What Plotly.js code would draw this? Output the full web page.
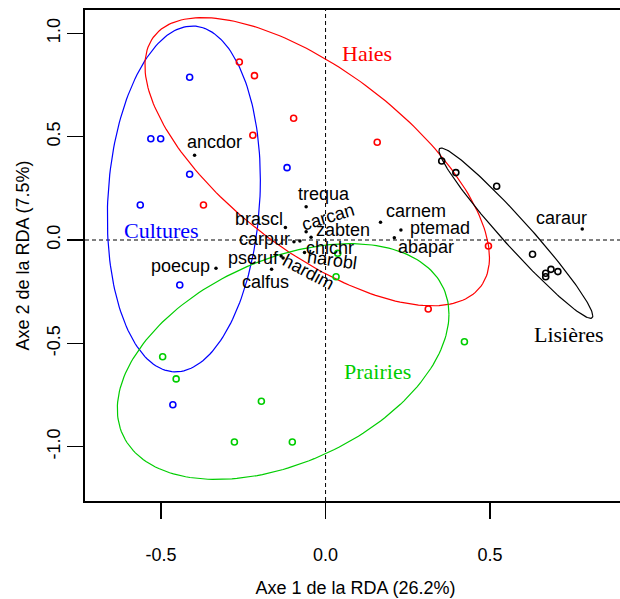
<!DOCTYPE html>
<html>
<head>
<meta charset="utf-8">
<script src="https://cdn.plot.ly/plotly-3.0.1.min.js"></script>
<style>
html, body { margin: 0; padding: 0; overflow: hidden; background: #fff; }
#chart { width: 640px; height: 599px; }
</style>
</head>
<body>
<div id="chart"></div>
<script>
// ---------------- DATA ----------------
const groups = ["Cultures", "Haies", "Prairies", "Lisières"];

// site scores (RDA axis 1, axis 2) per group
const culturesX = [-0.413, -0.531, -0.501, -0.413, -0.117, -0.563, -0.443, -0.464];
const culturesY = [0.787, 0.490, 0.490, 0.318, 0.350, 0.169, -0.218, -0.797];

const haiesX = [-0.262, -0.216, -0.097, -0.221, -0.371, 0.157, 0.495, 0.312];
const haiesY = [0.861, 0.795, 0.589, 0.507, 0.169, 0.473, -0.029, -0.334];

const prairiesX = [0.037, 0.032, 0.422, -0.495, -0.454, -0.195, -0.277, -0.101];
const prairiesY = [-0.064, -0.178, -0.492, -0.565, -0.672, -0.780, -0.977, -0.977];

const lisieresX = [0.353, 0.396, 0.520, 0.629, 0.685, 0.706, 0.669, 0.669];
const lisieresY = [0.382, 0.326, 0.260, -0.069, -0.142, -0.153, -0.161, -0.178];

// species scores
const species  = ["ancdor", "trequa", "brascl", "carcan", "zabten", "carpur", "chlchr", "pseruf",
                  "harobl", "hardim", "calfus", "poecup", "carnem", "ptemad", "abapar", "caraur"];
const speciesX = [-0.398, -0.059, -0.122, -0.059, -0.044, -0.096, -0.078, -0.135,
                  -0.064, -0.129, -0.164, -0.333, 0.167, 0.229, 0.209, 0.780];
const speciesY = [0.410, 0.161, 0.061, 0.040, 0.013, -0.008, -0.005, -0.077,
                  -0.060, -0.087, -0.142, -0.137, 0.086, 0.048, 0.011, 0.053];

// group label positions
const groupLabelX = [-0.498, 0.125, 0.159, 0.741];
const groupLabelY = [0.048, 0.903, -0.634, -0.456];

// ticks
const xTickVals = [-0.5, 0, 0.5];
const xTickText = ["-0.5", "0.0", "0.5"];
const yTickVals = [-1, -0.5, 0, 0.5, 1];
const yTickText = ["-1.0", "-0.5", "0.0", "0.5", "1.0"];

// ---------------- STYLE ----------------
const groupColors = ["#0000FF", "#FF0000", "#00CD00", "#000000"];
const ellipseScale2 = 2.85;   // squared radius multiplier of the dispersion ellipses
// label offsets in px: [dx, dy(down), angle]
const labelOffsets = {
  ancdor: [20, -13, 0], trequa: [18, -13, 0], brascl: [-26, -8, 0], carcan: [22, -15, -17],
  zabten: [32, -7, 0], carpur: [-29, -3, 0], chlchr: [30, 7, 0], pseruf: [-28, 2, 0],
  harobl: [28, 8, 8], hardim: [25, 14, 28], calfus: [-6, 13, 0], poecup: [-35, -2, 0],
  carnem: [35, -11, 0], ptemad: [39, -2, 0], abapar: [32, 9, 0], caraur: [-21, -11, 0]
};

const groupXs = [culturesX, haiesX, prairiesX, lisieresX];
const groupYs = [culturesY, haiesY, prairiesY, lisieresY];

// dispersion ellipse computed from the group's points (mean + covariance)
function ellipse(xs, ys, s2) {
  const n = xs.length;
  const mx = xs.reduce((a, b) => a + b, 0) / n;
  const my = ys.reduce((a, b) => a + b, 0) / n;
  let sxx = 0, syy = 0, sxy = 0;
  for (let i = 0; i < n; i++) {
    sxx += (xs[i] - mx) ** 2; syy += (ys[i] - my) ** 2; sxy += (xs[i] - mx) * (ys[i] - my);
  }
  sxx /= (n - 1); syy /= (n - 1); sxy /= (n - 1);
  const l11 = Math.sqrt(sxx), l21 = sxy / l11, l22 = Math.sqrt(Math.max(syy - l21 * l21, 0));
  const s = Math.sqrt(s2);
  const ex = [], ey = [];
  for (let k = 0; k <= 200; k++) {
    const t = 2 * Math.PI * k / 200;
    const c = Math.cos(t), si = Math.sin(t);
    ex.push(mx + s * l11 * c);
    ey.push(my + s * (l21 * c + l22 * si));
  }
  return {ex, ey};
}

const traces = [];
groups.forEach((g, i) => {
  const e = ellipse(groupXs[i], groupYs[i], ellipseScale2);
  traces.push({
    x: e.ex, y: e.ey, type: "scatter", mode: "lines",
    line: {color: groupColors[i], width: 1.2}, hoverinfo: "skip", showlegend: false
  });
});
groups.forEach((g, i) => {
  traces.push({
    x: groupXs[i], y: groupYs[i], type: "scatter", mode: "markers", name: g,
    marker: {symbol: "circle-open", size: 6, color: groupColors[i], line: {width: 1.6, color: groupColors[i]}},
    showlegend: false
  });
});
traces.push({
  x: speciesX, y: speciesY, text: species, type: "scatter", mode: "markers",
  marker: {size: 3.5, color: "#000"}, showlegend: false, hoverinfo: "text"
});

const annotations = [];
species.forEach((sp, i) => {
  const o = labelOffsets[sp];
  annotations.push({
    x: speciesX[i], y: speciesY[i], xref: "x", yref: "y", text: sp, showarrow: false,
    xshift: o[0], yshift: -o[1], textangle: o[2],
    font: {family: "Liberation Sans, Arial, sans-serif", size: 18, color: "#000"}
  });
});
groups.forEach((g, i) => {
  annotations.push({
    x: groupLabelX[i], y: groupLabelY[i], xref: "x", yref: "y", text: g, showarrow: false,
    font: {family: "Liberation Serif, Times New Roman, serif", size: 22, color: groupColors[i]}
  });
});

const layout = {
  width: 640, height: 599,
  margin: {l: 85, r: 14, t: 10, b: 98},
  paper_bgcolor: "#fff", plot_bgcolor: "#fff",
  font: {family: "Liberation Sans, Arial, sans-serif", size: 18, color: "#000"},
  xaxis: {
    range: [-0.731, 0.913], tickmode: "array", tickvals: xTickVals, ticktext: xTickText,
    ticks: "outside", ticklen: 16, tickwidth: 1.2, tickcolor: "#000",
    showline: true, linecolor: "#000", linewidth: 1.6, mirror: true,
    showgrid: false, zeroline: false, ticklabelstandoff: 21,
    tickfont: {size: 18},
    title: {text: "Axe 1 de la RDA (26.2%)", font: {size: 18}, standoff: 17}
  },
  yaxis: {
    range: [-1.2627, 1.1127], tickmode: "array", tickvals: yTickVals, ticktext: yTickText,
    ticks: "outside", ticklen: 16, tickwidth: 1.2, tickcolor: "#000", tickangle: -90,
    showline: true, linecolor: "#000", linewidth: 1.6, mirror: true,
    showgrid: false, zeroline: false, ticklabelstandoff: 0,
    tickfont: {size: 18},
    title: {text: "Axe 2 de la RDA (7.5%)", font: {size: 18}, standoff: 10}
  },
  shapes: [
    {type: "line", xref: "x", yref: "paper", x0: 0, x1: 0, y0: 0, y1: 1,
     line: {color: "#000", width: 1, dash: "4px,3px"}, layer: "below"},
    {type: "line", xref: "paper", yref: "y", x0: 0, x1: 1, y0: 0, y1: 0,
     line: {color: "#000", width: 1, dash: "4px,3px"}, layer: "below"}
  ],
  annotations: annotations
};

Plotly.newPlot("chart", traces, layout, {displayModeBar: false, staticPlot: true});
</script>
</body>
</html>
